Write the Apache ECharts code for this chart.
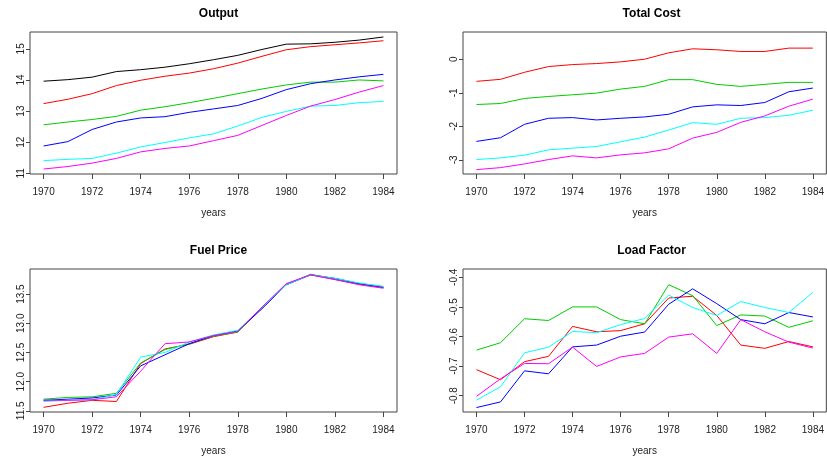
<!DOCTYPE html>
<html>
<head>
<meta charset="utf-8">
<title>Airline panels</title>
<script src="https://cdn.jsdelivr.net/npm/echarts@6/dist/echarts.min.js"></script>
<style>
  html, body { margin: 0; padding: 0; background: #fff; }
  #chart { width: 827px; height: 458px; }
</style>
</head>
<body>
<div id="chart"></div>
<script>
const years = [1970, 1971, 1972, 1973, 1974, 1975, 1976, 1977, 1978, 1979, 1980, 1981, 1982, 1983, 1984]
const yearTicks = [1970, 1972, 1974, 1976, 1978, 1980, 1982, 1984]

// Output (6 airlines)
const outputBlack = [13.96, 14.01, 14.09, 14.27, 14.33, 14.41, 14.52, 14.65, 14.79, 14.98, 15.15, 15.16, 15.21, 15.28, 15.38]
const outputRed = [13.24, 13.38, 13.56, 13.82, 13.99, 14.12, 14.22, 14.36, 14.54, 14.76, 14.97, 15.07, 15.13, 15.19, 15.26]
const outputGreen = [12.56, 12.65, 12.73, 12.83, 13.03, 13.14, 13.27, 13.41, 13.56, 13.71, 13.84, 13.93, 13.93, 14.0, 13.97]
const outputBlue = [11.88, 12.02, 12.41, 12.65, 12.78, 12.82, 12.96, 13.07, 13.18, 13.41, 13.69, 13.88, 14.0, 14.1, 14.18]
const outputCyan = [11.41, 11.45, 11.48, 11.65, 11.85, 11.99, 12.14, 12.27, 12.52, 12.8, 12.99, 13.16, 13.18, 13.27, 13.31]
const outputMagenta = [11.14, 11.22, 11.33, 11.48, 11.69, 11.8, 11.88, 12.05, 12.22, 12.54, 12.86, 13.16, 13.37, 13.61, 13.82]
const outputTicks = [11, 12, 13, 14, 15]

// Total Cost
const costRed = [-0.66, -0.6, -0.39, -0.22, -0.16, -0.13, -0.08, 0.0, 0.19, 0.31, 0.28, 0.23, 0.23, 0.33, 0.33]
const costGreen = [-1.35, -1.32, -1.17, -1.11, -1.06, -1.01, -0.89, -0.81, -0.61, -0.61, -0.75, -0.81, -0.75, -0.69, -0.69]
const costBlue = [-2.45, -2.34, -1.94, -1.76, -1.74, -1.81, -1.76, -1.72, -1.64, -1.42, -1.36, -1.38, -1.29, -0.97, -0.86]
const costCyan = [-2.99, -2.94, -2.86, -2.7, -2.65, -2.6, -2.46, -2.32, -2.11, -1.89, -1.94, -1.76, -1.74, -1.67, -1.52]
const costMagenta = [-3.29, -3.23, -3.12, -2.99, -2.88, -2.94, -2.85, -2.79, -2.67, -2.35, -2.18, -1.88, -1.69, -1.4, -1.19]
const costTicks = [-3, -2, -1, 0]

// Fuel Price
const fuelRed = [11.56, 11.63, 11.68, 11.66, 12.31, 12.56, 12.64, 12.77, 12.85, 13.26, 13.67, 13.83, 13.75, 13.67, 13.61]
const fuelGreen = [11.70, 11.73, 11.74, 11.80, 12.32, 12.55, 12.65, 12.78, 12.85, 13.27, 13.66, 13.84, 13.76, 13.68, 13.63]
const fuelBlue = [11.68, 11.70, 11.72, 11.77, 12.27, 12.46, 12.65, 12.79, 12.87, 13.25, 13.66, 13.83, 13.77, 13.68, 13.62]
const fuelCyan = [11.66, 11.68, 11.69, 11.78, 12.42, 12.50, 12.68, 12.80, 12.88, 13.27, 13.66, 13.83, 13.77, 13.69, 13.63]
const fuelMagenta = [11.68, 11.68, 11.69, 11.74, 12.18, 12.65, 12.68, 12.79, 12.86, 13.28, 13.68, 13.83, 13.75, 13.66, 13.60]
const fuelTicks = [11.5, 12.0, 12.5, 13.0, 13.5]

// Load Factor
const loadRed = [-0.712, -0.746, -0.685, -0.667, -0.566, -0.584, -0.58, -0.557, -0.47, -0.464, -0.529, -0.629, -0.64, -0.617, -0.635]
const loadGreen = [-0.646, -0.621, -0.54, -0.546, -0.5, -0.5, -0.543, -0.557, -0.425, -0.462, -0.563, -0.527, -0.531, -0.569, -0.547]
const loadBlue = [-0.84, -0.821, -0.716, -0.726, -0.635, -0.629, -0.599, -0.585, -0.491, -0.439, -0.489, -0.543, -0.557, -0.519, -0.534]
const loadCyan = [-0.815, -0.77, -0.655, -0.636, -0.583, -0.587, -0.56, -0.539, -0.46, -0.502, -0.529, -0.482, -0.502, -0.519, -0.451]
const loadMagenta = [-0.802, -0.743, -0.691, -0.692, -0.636, -0.701, -0.669, -0.657, -0.602, -0.591, -0.657, -0.543, -0.584, -0.619, -0.639]
const loadTicks = [-0.8, -0.7, -0.6, -0.5, -0.4]

const COLORS = {
  black: '#000000',
  red: '#ff0000',
  green: '#00cd00',
  blue: '#0000ff',
  cyan: '#00ffff',
  magenta: '#ff00ff',
}

const FONT = 'Liberation Sans, Arial, sans-serif'
const AXIS_COLOR = '#444'

const panels = [
  { title: 'Output', left: 30, top: 32, height: 142, min: 10.98, max: 15.54, ticks: outputTicks, digits: 0,
    lines: [['black', outputBlack], ['red', outputRed], ['green', outputGreen], ['blue', outputBlue], ['cyan', outputCyan], ['magenta', outputMagenta]] },
  { title: 'Total Cost', left: 463, top: 32, height: 142, min: -3.42, max: 0.81, ticks: costTicks, digits: 0,
    lines: [['red', costRed], ['green', costGreen], ['blue', costBlue], ['cyan', costCyan], ['magenta', costMagenta]] },
  { title: 'Fuel Price', left: 30, top: 269, height: 143, min: 11.48, max: 13.93, ticks: fuelTicks, digits: 1,
    lines: [['red', fuelRed], ['green', fuelGreen], ['blue', fuelBlue], ['cyan', fuelCyan], ['magenta', fuelMagenta]] },
  { title: 'Load Factor', left: 463, top: 269, height: 143, min: -0.855, max: -0.372, ticks: loadTicks, digits: 1,
    lines: [['red', loadRed], ['green', loadGreen], ['blue', loadBlue], ['cyan', loadCyan], ['magenta', loadMagenta]] },
]
const PANEL_W = 367

const chart = echarts.init(document.getElementById('chart'), null, { renderer: 'canvas' })

const option = {
  backgroundColor: '#fff',
  animation: false,
  title: [],
  grid: [],
  xAxis: [],
  yAxis: [],
  series: [],
}

panels.forEach((p, i) => {
  option.title.push({
    text: p.title,
    left: p.left + PANEL_W / 2,
    top: p.top - 29,
    textAlign: 'center',
    textStyle: { fontFamily: FONT, fontSize: 12, fontWeight: 'bold', color: '#000' },
  })
  option.grid.push({
    left: p.left,
    top: p.top,
    width: PANEL_W,
    height: p.height,
    show: true,
    borderColor: AXIS_COLOR,
    borderWidth: 1,
    backgroundColor: 'transparent',
  })
  option.xAxis.push({
    type: 'value',
    gridIndex: i,
    min: 1969.44,
    max: 1984.56,
    name: 'years',
    nameLocation: 'middle',
    nameGap: 34,
    nameTextStyle: { fontFamily: FONT, fontSize: 10, color: '#222' },
    axisLine: { show: false, onZero: false },
    axisTick: { show: true, inside: false, length: 5, customValues: yearTicks, lineStyle: { color: AXIS_COLOR } },
    axisLabel: {
      customValues: yearTicks,
      margin: 13,
      fontFamily: FONT,
      fontSize: 10,
      color: '#222',
      formatter: (v) => String(Math.round(v)),
    },
    splitLine: { show: false },
  })
  option.yAxis.push({
    type: 'value',
    gridIndex: i,
    min: p.min,
    max: p.max,
    axisLine: { show: false, onZero: false },
    axisTick: { show: true, inside: false, length: 4, customValues: p.ticks, lineStyle: { color: AXIS_COLOR } },
    axisLabel: {
      customValues: p.ticks,
      rotate: 90,
      margin: 4,
      fontFamily: FONT,
      fontSize: 10,
      color: '#222',
      formatter: (v) => Number(v).toFixed(p.digits),
    },
    splitLine: { show: false },
  })
  p.lines.forEach(([colorName, values]) => {
    option.series.push({
      type: 'line',
      xAxisIndex: i,
      yAxisIndex: i,
      data: years.map((y, k) => [y, values[k]]),
      showSymbol: false,
      symbol: 'none',
      lineStyle: { color: COLORS[colorName], width: 1 },
      itemStyle: { color: COLORS[colorName] },
      emphasis: { disabled: true },
      silent: true,
    })
  })
})

chart.setOption(option)
</script>
</body>
</html>
